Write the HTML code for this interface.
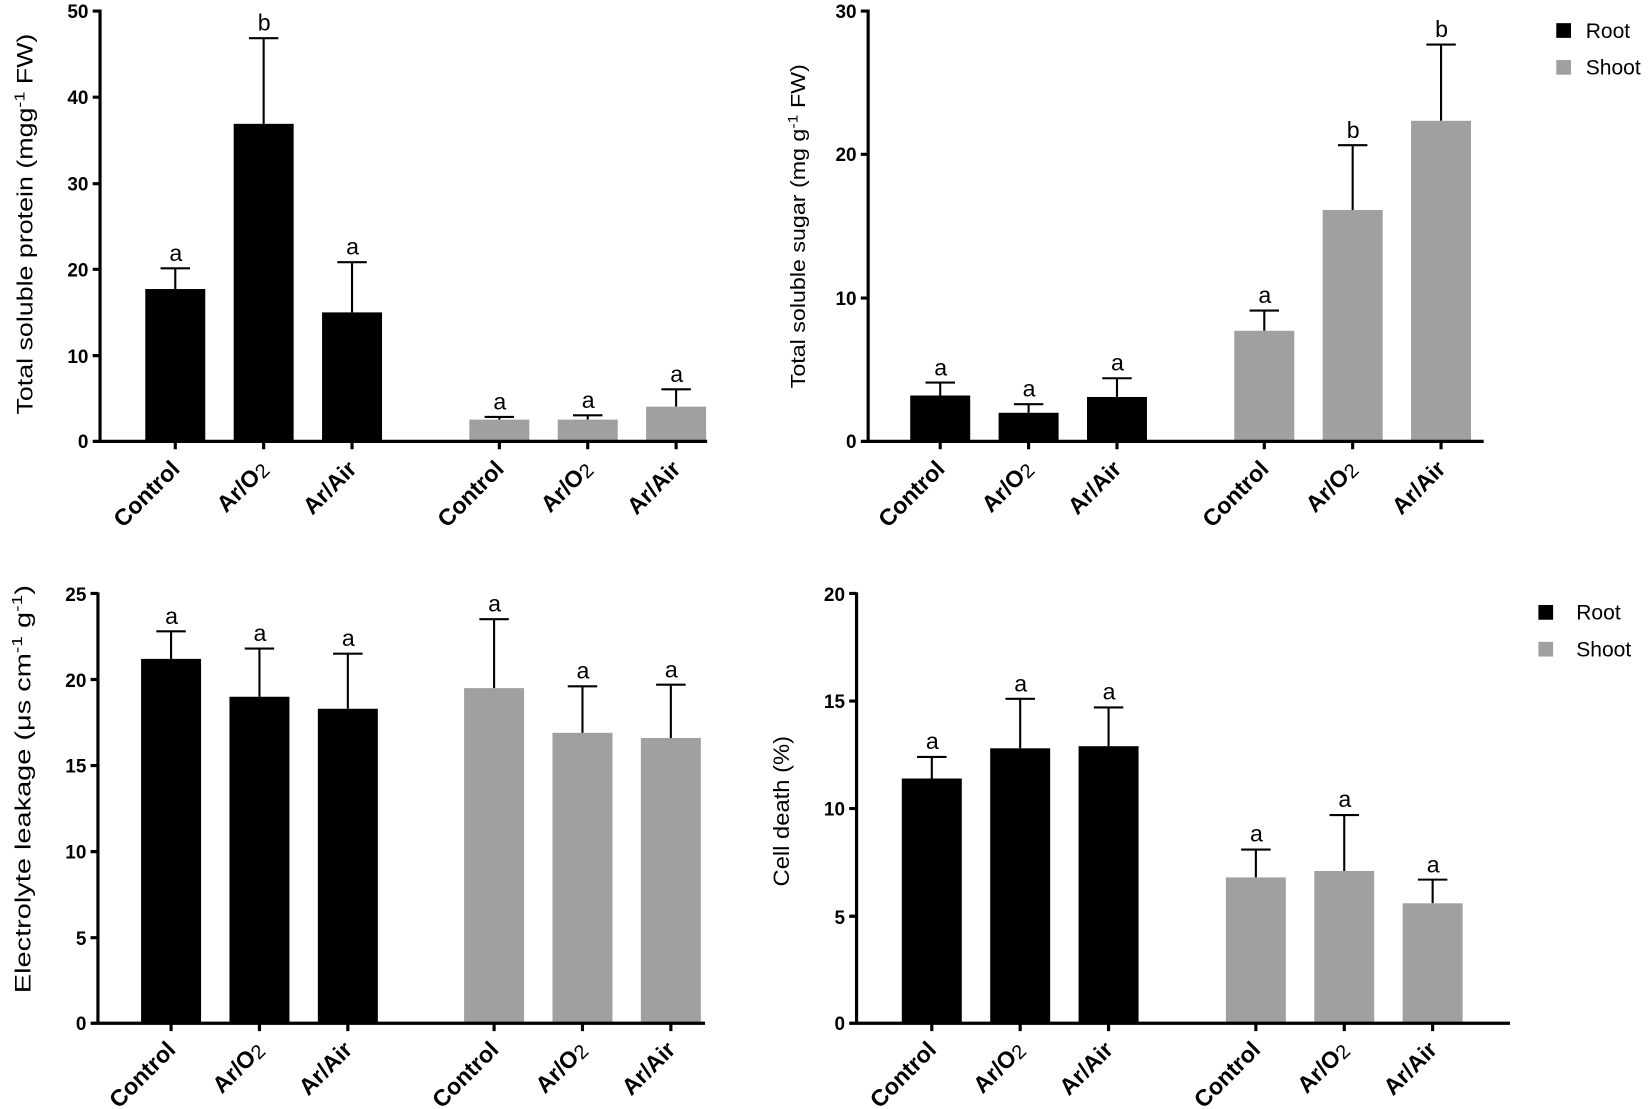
<!DOCTYPE html>
<html><head><meta charset="utf-8"><style>
html,body{margin:0;padding:0;background:#fff}
svg{display:block}
text{font-family:"Liberation Sans",Arial,sans-serif;fill:#000}
.t{font-size:18px;font-weight:bold;text-anchor:end}
.x{font-size:22px;font-weight:bold;text-anchor:end}
.l{font-size:22px;text-anchor:middle}
.yt{font-size:21px;text-anchor:middle}
.lg{font-size:20px}
</style></head><body>
<svg width="1650" height="1109" viewBox="0 0 1568 1054" xmlns="http://www.w3.org/2000/svg">
<g stroke="#000" stroke-width="2" fill="none">
<path d="M166.5 274.7V255M152.5 255H180.5M250.5 117.7V36.3M236.5 36.3H264.5M334.5 296.9V249.2M320.5 249.2H348.5M474.5 398.8V396.3M460.5 396.3H488.5M558.5 398.8V394.7M544.5 394.7H572.5M642.5 386.5V370M628.5 370H656.5"/>
<path d="M893.5 375.9V363.6M879.5 363.6H907.5M977.5 392.3V384.1M963.5 384.1H991.5M1061.5 377.3V359.5M1047.5 359.5H1075.5M1201.5 314.4V295.2M1187.5 295.2H1215.5M1285.5 199.6V138M1271.5 138H1299.5M1369.5 114.8V42.4M1355.5 42.4H1383.5"/>
<path d="M162.5 626.2V600M148.5 600H176.5M246.5 662.2V616.4M232.5 616.4H260.5M330.5 673.6V621.3M316.5 621.3H344.5M469.5 654V588.5M455.5 588.5H483.5M553.5 696.5V652.3M539.5 652.3H567.5M637.5 701.4V650.7M623.5 650.7H651.5"/>
<path d="M885.5 739.9V719.4M871.5 719.4H899.5M969.5 711.2V664.2M955.5 664.2H983.5M1053.5 709.2V672.4M1039.5 672.4H1067.5M1193.5 833.9V807.4M1179.5 807.4H1207.5M1277.5 827.8V774.6M1263.5 774.6H1291.5M1361.5 858.5V836M1347.5 836H1375.5"/>
</g>
<g fill="#000">
<rect x="138" y="274.7" width="57" height="146.3"/><rect x="222" y="117.7" width="57" height="303.3"/><rect x="306" y="296.9" width="57" height="124.1"/>
<rect x="865" y="375.9" width="57" height="45.1"/><rect x="949" y="392.3" width="57" height="28.7"/><rect x="1033" y="377.3" width="57" height="43.7"/>
<rect x="134" y="626.2" width="57" height="346.8"/><rect x="218" y="662.2" width="57" height="310.8"/><rect x="302" y="673.6" width="57" height="299.4"/>
<rect x="857" y="739.9" width="57" height="233.1"/><rect x="941" y="711.2" width="57" height="261.8"/><rect x="1025" y="709.2" width="57" height="263.8"/>
<rect x="1479" y="22" width="14" height="14"/><rect x="1462" y="575" width="14" height="14"/>
</g>
<g fill="#a0a0a0">
<rect x="446" y="398.8" width="57" height="22.2"/><rect x="530" y="398.8" width="57" height="22.2"/><rect x="614" y="386.5" width="57" height="34.5"/>
<rect x="1173" y="314.4" width="57" height="106.6"/><rect x="1257" y="199.6" width="57" height="221.4"/><rect x="1341" y="114.8" width="57" height="306.2"/>
<rect x="441" y="654" width="57" height="319"/><rect x="525" y="696.5" width="57" height="276.5"/><rect x="609" y="701.4" width="57" height="271.6"/>
<rect x="1165" y="833.9" width="57" height="139.1"/><rect x="1249" y="827.8" width="57" height="145.2"/><rect x="1333" y="858.5" width="57" height="114.5"/>
<rect x="1479" y="57" width="14" height="14"/><rect x="1462" y="610" width="14" height="14"/>
</g>
<text class="lg" x="1507" y="36">Root</text><text class="lg" x="1507" y="71">Shoot</text>
<text class="lg" x="1498" y="589">Root</text><text class="lg" x="1498" y="624">Shoot</text>
<g stroke="#000" stroke-width="3" fill="none">
<path d="M95 9V420M88 419.5H672M88 338H95M88 256H95M88 174.6H95M88 92.4H95M88 10.5H95"/>
<path d="M166.5 419v8M250.5 419v8M334.5 419v8M474.5 419v8M558.5 419v8M642.5 419v8"/>
<path d="M825 9V420M818 419.5H1410M818 283.3H825M818 146.7H825M818 10.5H825"/>
<path d="M893.5 419v8M977.5 419v8M1061.5 419v8M1201.5 419v8M1285.5 419v8M1369.5 419v8"/>
<path d="M93 563V973M86 972.5H670M86 891.2H93M86 809.4H93M86 727.6H93M86 645.8H93M86 564H93"/>
<path d="M162.5 972v8M246.5 972v8M330.5 972v8M469.5 972v8M553.5 972v8M637.5 972v8"/>
<path d="M814 563V973M807 972.5H1435M807 870.8H814M807 768.5H814M807 666.3H814M807 564H814"/>
<path d="M885.5 972v8M969.5 972v8M1053.5 972v8M1193.5 972v8M1277.5 972v8M1361.5 972v8"/>
</g>
<g class="t">
<text x="84" y="426">0</text><text x="84" y="345">10</text><text x="84" y="263">20</text><text x="84" y="181">30</text><text x="84" y="99">40</text><text x="84" y="17">50</text>
<text x="814" y="426">0</text><text x="814" y="290">10</text><text x="814" y="153">20</text><text x="814" y="17">30</text>
<text x="82" y="979">0</text><text x="82" y="898">5</text><text x="82" y="816">10</text><text x="82" y="734">15</text><text x="82" y="653">20</text><text x="82" y="571">25</text>
<text x="803" y="979">0</text><text x="803" y="878">5</text><text x="803" y="775">10</text><text x="803" y="673">15</text><text x="803" y="571">20</text>
</g>
<g class="l">
<text x="167" y="248">a</text><text x="251" y="29">b</text><text x="335" y="242">a</text><text x="475" y="389">a</text><text x="559" y="388">a</text><text x="643" y="363">a</text>
<text x="894" y="357">a</text><text x="978" y="377">a</text><text x="1062" y="352">a</text><text x="1202" y="288">a</text><text x="1286" y="131">b</text><text x="1370" y="35">b</text>
<text x="163" y="593">a</text><text x="247" y="609">a</text><text x="331" y="614">a</text><text x="470" y="581">a</text><text x="554" y="645">a</text><text x="638" y="644">a</text>
<text x="886" y="712">a</text><text x="970" y="657">a</text><text x="1054" y="665">a</text><text x="1194" y="800">a</text><text x="1278" y="767">a</text><text x="1362" y="829">a</text>
</g>
<g class="x">
<text transform="translate(172,447) rotate(-45)">Control</text>
<text transform="translate(256,447) rotate(-45)">Ar/O<tspan font-weight="normal" font-size="19" dy="2">2</tspan></text>
<text transform="translate(340,447) rotate(-45)">Ar/Air</text>
<text transform="translate(480,447) rotate(-45)">Control</text>
<text transform="translate(564,447) rotate(-45)">Ar/O<tspan font-weight="normal" font-size="19" dy="2">2</tspan></text>
<text transform="translate(648,447) rotate(-45)">Ar/Air</text>
<text transform="translate(899,447) rotate(-45)">Control</text>
<text transform="translate(983,447) rotate(-45)">Ar/O<tspan font-weight="normal" font-size="19" dy="2">2</tspan></text>
<text transform="translate(1067,447) rotate(-45)">Ar/Air</text>
<text transform="translate(1207,447) rotate(-45)">Control</text>
<text transform="translate(1291,447) rotate(-45)">Ar/O<tspan font-weight="normal" font-size="19" dy="2">2</tspan></text>
<text transform="translate(1375,447) rotate(-45)">Ar/Air</text>
<text transform="translate(168,999) rotate(-45)">Control</text>
<text transform="translate(252,999) rotate(-45)">Ar/O<tspan font-weight="normal" font-size="19" dy="2">2</tspan></text>
<text transform="translate(336,999) rotate(-45)">Ar/Air</text>
<text transform="translate(475,999) rotate(-45)">Control</text>
<text transform="translate(559,999) rotate(-45)">Ar/O<tspan font-weight="normal" font-size="19" dy="2">2</tspan></text>
<text transform="translate(643,999) rotate(-45)">Ar/Air</text>
<text transform="translate(891,999) rotate(-45)">Control</text>
<text transform="translate(975,999) rotate(-45)">Ar/O<tspan font-weight="normal" font-size="19" dy="2">2</tspan></text>
<text transform="translate(1059,999) rotate(-45)">Ar/Air</text>
<text transform="translate(1199,999) rotate(-45)">Control</text>
<text transform="translate(1283,999) rotate(-45)">Ar/O<tspan font-weight="normal" font-size="19" dy="2">2</tspan></text>
<text transform="translate(1367,999) rotate(-45)">Ar/Air</text>
</g>
<text class="yt" transform="translate(31,213) rotate(-90)" textLength="362" lengthAdjust="spacingAndGlyphs">Total soluble protein (mgg<tspan font-size="14" dy="-8">-1</tspan><tspan dy="8"> FW)</tspan></text>
<text class="yt" style="font-size:19px" transform="translate(765,215) rotate(-90)" textLength="308" lengthAdjust="spacingAndGlyphs">Total soluble sugar (mg g<tspan font-size="13" dy="-7">-1</tspan><tspan dy="7"> FW)</tspan></text>
<text class="yt" transform="translate(29,750) rotate(-90)" textLength="388" lengthAdjust="spacingAndGlyphs">Electrolyte leakage (μs cm<tspan font-size="14" dy="-8">-1</tspan><tspan dy="8"> g</tspan><tspan font-size="14" dy="-8">-1</tspan><tspan dy="8">)</tspan></text>
<text class="yt" transform="translate(750,771) rotate(-90)" textLength="143" lengthAdjust="spacingAndGlyphs">Cell death (%)</text>
</svg>
</body></html>
